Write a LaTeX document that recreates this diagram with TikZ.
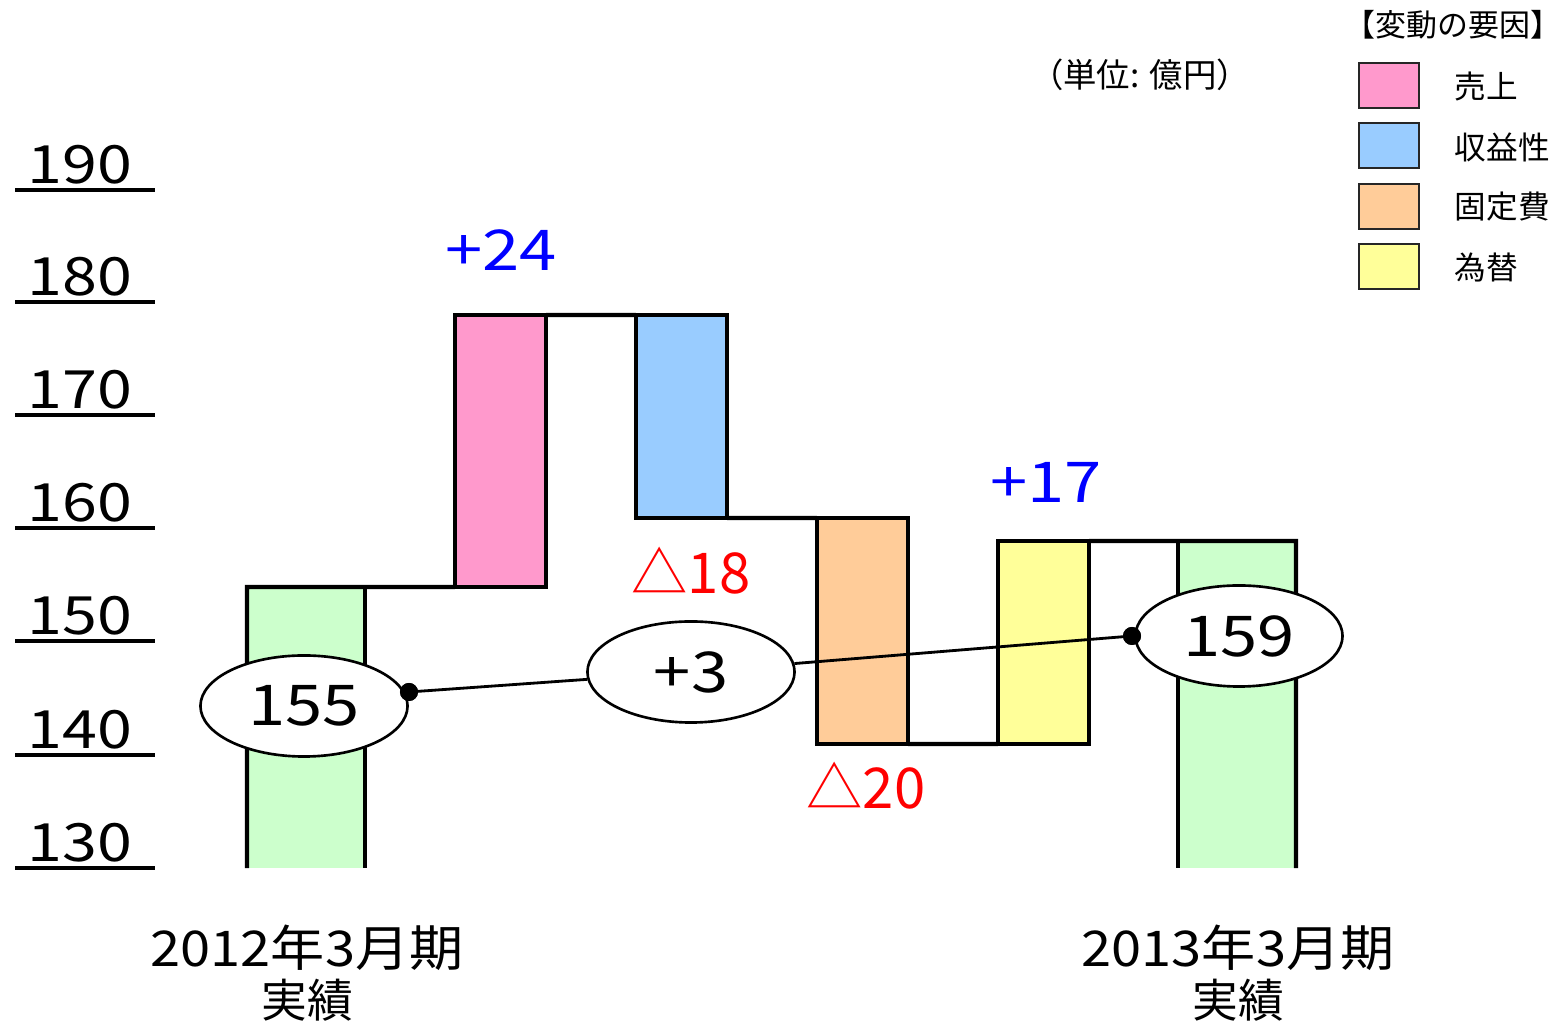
\documentclass[tikz,border=0pt]{standalone}
\usepackage{fontspec}
\setmainfont{Noto Sans CJK JP}
\newfontfamily\numwide[FakeStretch=1.19]{Noto Sans CJK JP}
\newfontfamily\nummid[FakeStretch=1.1]{Noto Sans CJK JP}
\usetikzlibrary{shapes.geometric}
\definecolor{cpink}{HTML}{FF99CC}
\definecolor{cblue}{HTML}{99CCFF}
\definecolor{corange}{HTML}{FFCC99}
\definecolor{cyellow}{HTML}{FFFF99}
\definecolor{cgreen}{HTML}{CCFFCC}
\definecolor{cplus}{HTML}{0000FF}
\definecolor{cminus}{HTML}{FF0000}
\tikzset{
  barbox/.style={rectangle, inner sep=0pt, outer sep=0pt, draw=black, line width=1.2pt, minimum width=0.91cm},
  greenbar/.style={rectangle, inner sep=0pt, outer sep=0pt, fill=cgreen, minimum width=1.18cm},
  barline/.style={line width=1.2pt, line join=miter},
  axisline/.style={line width=1.2pt},
  ticklabel/.style={font=\numwide\fontsize{15}{18}\selectfont, inner sep=0pt},
  valoval/.style={ellipse, draw=black, fill=white, line width=0.75pt, inner sep=0pt, minimum width=2.07cm, minimum height=1.01cm, font=\numwide\fontsize{16}{19}\selectfont},
  dotnode/.style={circle, fill=black, inner sep=0pt, minimum size=0.18cm},
  conn/.style={line width=0.8pt},
  plusval/.style={text=cplus, font=\numwide\fontsize{16}{19}\selectfont, inner sep=0pt},
  minusval/.style={text=cminus, font=\fontsize{16}{19}\selectfont, inner sep=0pt},
  legbox/.style={rectangle, draw=black!85, line width=0.7pt, inner sep=0pt, minimum width=0.6cm, minimum height=0.45cm},
  legtext/.style={font=\fontsize{9}{11}\selectfont, inner sep=0pt, anchor=west},
  catlabel/.style={font=\nummid\fontsize{14}{17}\selectfont, inner sep=0pt},
  catsub/.style={font=\fontsize{13}{16}\selectfont, inner sep=0pt}
}
\begin{document}
\begin{tikzpicture}[x=0.01cm, y=-0.01cm]
\useasboundingbox (0,0) rectangle (1556,1025);

% axis ticks
\foreach \v/\yy in {190/190,180/302,170/415,160/528,150/641,140/755,130/868}{
  \draw[axisline] (15,\yy) -- (155,\yy);
  \node[ticklabel] (t\v) at (80,\yy-25) {\v};
}

% bars
\node[greenbar, minimum height=2.81cm] (g1) at (306,727.5) {};
\node[barbox, fill=cpink, minimum height=2.72cm] (pink) at (500.5,451) {};
\node[barbox, fill=cblue, minimum height=2.03cm] (blue) at (681.5,416.5) {};
\node[barbox, fill=corange, minimum height=2.26cm] (orange) at (862.5,631) {};
\node[barbox, fill=cyellow, minimum height=2.03cm] (yellow) at (1043.5,642.5) {};
\node[greenbar, minimum height=3.27cm] (g2) at (1237,704.5) {};

% outlines and step connectors
\draw[barline] (g1.south west) -- (g1.north west) -- (pink.south west);
\draw[barline] (g1.north east) -- (g1.south east);
\draw[barline] (pink.north east) -- (blue.north west);
\draw[barline] (blue.south east) -- (orange.north west);
\draw[barline] (orange.south east) -- (yellow.south west);
\draw[barline] (yellow.north east) -- (g2.north east) -- (g2.south east);
\draw[barline] (g2.north west) -- (g2.south west);

% value labels
\node[plusval] (l24) at (501,250) {+24};
\node[minusval] (l18) at (691,571) {△18};
\node[minusval] (l20) at (866,786) {△20};
\node[plusval] (l17) at (1046,482) {+17};

% ovals and connector
\node[valoval] (v155) at (304,706) {155};
\node[valoval] (v3) at (691,672) {+3};
\node[valoval] (v159) at (1239,636) {159};
\node[dotnode] (d1) at (409,692) {};
\node[dotnode] (d2) at (1132,636) {};
\draw[conn] (d1.center) -- (v3);
\draw[conn] (v3) -- (d2.center);
\node[dotnode] at (d1) {};
\node[dotnode] at (d2) {};

% unit and legend
\node[font=\fontsize{9.5}{11}\selectfont, inner sep=0pt] (unit) at (1140,75) {（単位: 億円）};
\node[font=\fontsize{8.8}{11}\selectfont, inner sep=0pt] (legtitle) at (1453,25) {【変動の要因】};
\node[legbox, fill=cpink] (lb1) at (1389,85.5) {};
\node[legbox, fill=cblue] (lb2) at (1389,145.5) {};
\node[legbox, fill=corange] (lb3) at (1389,206.5) {};
\node[legbox, fill=cyellow] (lb4) at (1389,266.5) {};
\node[legtext] (lt1) at (1454,87) {売上};
\node[legtext] (lt2) at (1454,147) {収益性};
\node[legtext] (lt3) at (1454,207) {固定費};
\node[legtext] (lt4) at (1454,267) {為替};

% category labels
\node[catlabel] (c1a) at (307,948) {2012年3月期};
\node[catsub] (c1b) at (307,1000) {実績};
\node[catlabel] (c2a) at (1238,948) {2013年3月期};
\node[catsub] (c2b) at (1238,1000) {実績};
\end{tikzpicture}
\end{document}
